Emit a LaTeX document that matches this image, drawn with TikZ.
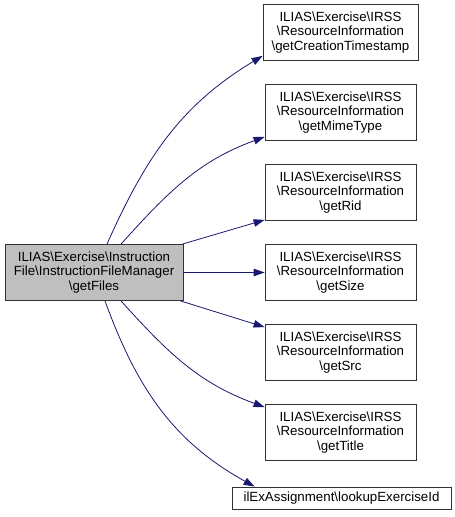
\documentclass[tikz,border=0pt]{standalone}
\usepackage{fontspec}
\setmainfont{Liberation Sans}
\usetikzlibrary{arrows.meta}
\definecolor{edgec}{RGB}{25,25,112}
\definecolor{hlfill}{RGB}{191,191,191}
\tikzset{
  box/.style={draw=black!80, fill=white, line width=0.8pt, inner sep=0pt, align=center,
    font=\fontsize{13.3}{14.5}\selectfont, minimum height=56pt},
  hl/.style={box, fill=hlfill},
  edge/.style={draw=edgec, line width=0.8pt, -{Triangle[length=11pt,width=7.5pt]}},
}
\begin{document}
\begin{tikzpicture}[x=1pt,y=1pt]
\useasboundingbox (0,0) rectangle (455,517);
\node[hl, minimum width=178pt] (L) at (94,244.5) {ILIAS\textbackslash Exercise\textbackslash Instruction\\File\textbackslash InstructionFileManager\\\textbackslash getFiles};
\node[box, minimum width=155pt] (R1) at (340.5,484.5) {ILIAS\textbackslash Exercise\textbackslash IRSS\\\textbackslash ResourceInformation\\\textbackslash getCreationTimestamp};
\node[box, minimum width=151pt] (R2) at (340.5,404.5) {ILIAS\textbackslash Exercise\textbackslash IRSS\\\textbackslash ResourceInformation\\\textbackslash getMimeType};
\node[box, minimum width=151pt] (R3) at (340.5,324.5) {ILIAS\textbackslash Exercise\textbackslash IRSS\\\textbackslash ResourceInformation\\\textbackslash getRid};
\node[box, minimum width=151pt] (R4) at (340.5,244.5) {ILIAS\textbackslash Exercise\textbackslash IRSS\\\textbackslash ResourceInformation\\\textbackslash getSize};
\node[box, minimum width=151pt] (R5) at (340.5,164.5) {ILIAS\textbackslash Exercise\textbackslash IRSS\\\textbackslash ResourceInformation\\\textbackslash getSrc};
\node[box, minimum width=151pt] (R6) at (340.5,84.5) {ILIAS\textbackslash Exercise\textbackslash IRSS\\\textbackslash ResourceInformation\\\textbackslash getTitle};
\node[box, minimum width=219pt, minimum height=22pt] (R7) at (341.5,19) {ilExAssignment\textbackslash lookupExerciseId};
\draw[edge] ([xshift=13pt]L.north) to[out=66,in=211] ([yshift=5pt]R1.south west);
\draw[edge] ([xshift=27pt]L.north) to[out=48,in=200] ([yshift=4pt]R2.south west);
\draw[edge] ([xshift=-1pt]L.north east) -- ([yshift=1pt]R3.south west);
\draw[edge] (L.east) -- (R4.west);
\draw[edge] ([xshift=-3pt]L.south east) -- ([yshift=-3pt]R5.north west);
\draw[edge] ([xshift=27pt]L.south) to[out=-48,in=160] ([yshift=-3pt]R6.north west);
\draw[edge] ([xshift=11pt]L.south) to[out=-70,in=151] ([xshift=23pt]R7.north west);
\end{tikzpicture}
\end{document}
